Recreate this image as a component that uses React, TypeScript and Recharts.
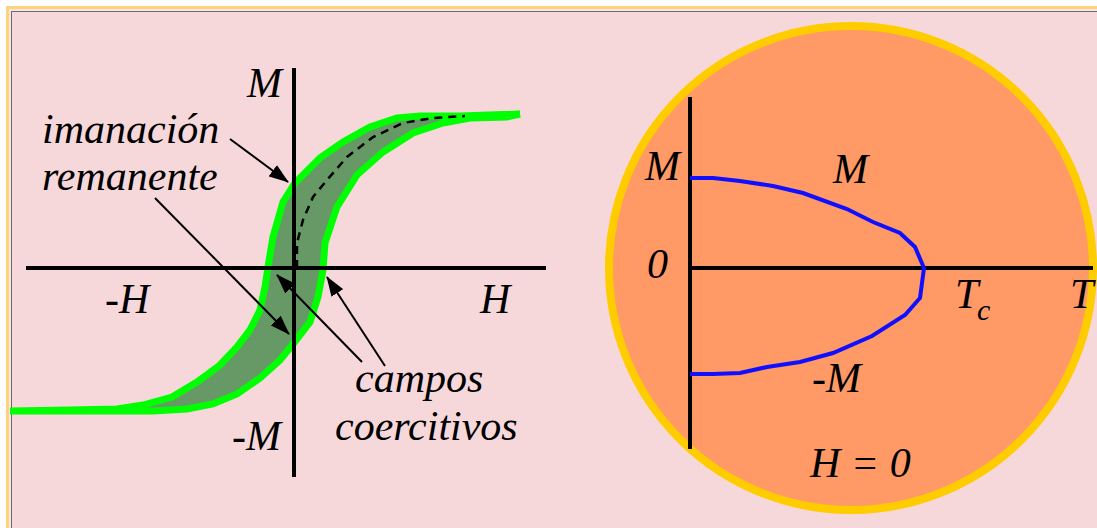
import React from 'react';
import { ComposedChart, Line, XAxis, YAxis, ReferenceDot } from 'recharts';

type HM = { h: number; m: number };
type TM = { t: number; m: number };

// hysteresis loop (H, M in arbitrary units)
const descendingBranch: HM[] = [
  { h: 2.26, m: 1.54 }, { h: 1.66, m: 1.52 }, { h: 1.26, m: 1.52 }, { h: 1.03, m: 1.5 },
  { h: 0.76, m: 1.41 }, { h: 0.49, m: 1.26 }, { h: 0.26, m: 1.1 }, { h: 0.01, m: 0.85 },
  { h: -0.11, m: 0.66 }, { h: -0.21, m: 0.31 }, { h: -0.26, m: 0.01 }, { h: -0.29, m: -0.19 },
  { h: -0.34, m: -0.42 }, { h: -0.44, m: -0.62 }, { h: -0.57, m: -0.79 }, { h: -0.74, m: -0.97 },
  { h: -0.97, m: -1.14 }, { h: -1.22, m: -1.29 }, { h: -1.51, m: -1.37 }, { h: -1.77, m: -1.41 },
  { h: -2.24, m: -1.42 }, { h: -2.84, m: -1.43 },
];
const ascendingBranch: HM[] = [
  { h: -2.84, m: -1.43 }, { h: -1.41, m: -1.43 }, { h: -1.07, m: -1.41 }, { h: -0.81, m: -1.36 },
  { h: -0.57, m: -1.26 }, { h: -0.34, m: -1.1 }, { h: -0.14, m: -0.92 }, { h: -0.01, m: -0.76 },
  { h: 0.16, m: -0.54 }, { h: 0.24, m: -0.29 }, { h: 0.29, m: -0.02 }, { h: 0.31, m: 0.25 },
  { h: 0.43, m: 0.61 }, { h: 0.63, m: 0.93 }, { h: 0.89, m: 1.16 }, { h: 1.19, m: 1.35 },
  { h: 1.49, m: 1.45 }, { h: 1.76, m: 1.5 }, { h: 2.13, m: 1.51 }, { h: 2.26, m: 1.54 },
];
const virginCurve: HM[] = [
  { h: 0.03, m: 0 }, { h: 0.03, m: 0.25 }, { h: 0.09, m: 0.48 }, { h: 0.19, m: 0.71 },
  { h: 0.33, m: 0.88 }, { h: 0.53, m: 1.11 }, { h: 0.79, m: 1.31 }, { h: 1.09, m: 1.45 },
  { h: 1.39, m: 1.5 }, { h: 1.71, m: 1.52 },
];
const hAxis: HM[] = [{ h: -2.68, m: 0 }, { h: 2.52, m: 0 }];
const mAxis: HM[] = [{ h: 0, m: 2.0 }, { h: 0, m: -2.09 }];
const arrowRemanentUp: HM[] = [{ h: -0.64, m: 1.29 }, { h: -0.06, m: 0.86 }];
const arrowRemanentDown: HM[] = [{ h: -1.39, m: 0.7 }, { h: -0.05, m: -0.66 }];
const arrowCoerciveLeft: HM[] = [{ h: 0.68, m: -0.94 }, { h: -0.17, m: -0.07 }];
const arrowCoerciveRight: HM[] = [{ h: 0.91, m: -0.98 }, { h: 0.33, m: -0.09 }];

// spontaneous magnetisation vs temperature, H = 0
const upperM: TM[] = [
  { t: 0, m: 0.9 }, { t: 0.23, m: 0.9 }, { t: 0.5, m: 0.87 }, { t: 0.83, m: 0.82 },
  { t: 1.13, m: 0.75 }, { t: 1.57, m: 0.59 }, { t: 1.83, m: 0.46 }, { t: 2.1, m: 0.35 },
  { t: 2.25, m: 0.21 }, { t: 2.34, m: 0 },
];
const lowerM: TM[] = [
  { t: 2.34, m: 0 }, { t: 2.3, m: -0.3 }, { t: 2.15, m: -0.47 }, { t: 1.82, m: -0.68 },
  { t: 1.43, m: -0.85 }, { t: 1.1, m: -0.94 }, { t: 0.77, m: -0.99 }, { t: 0.5, m: -1.05 },
  { t: 0.23, m: -1.06 }, { t: 0, m: -1.06 },
];
const tAxis: TM[] = [{ t: 0, m: 0 }, { t: 4.03, m: 0 }];
const mtAxis: TM[] = [{ t: 0, m: 1.71 }, { t: 0, m: -1.81 }];
const bubbleCenter = { t: 1.61, m: 0 };

const loop = [...descendingBranch, ...ascendingBranch.slice(1)];

const font = '"Liberation Serif", "Times New Roman", serif';

const common = {
  type: 'linear' as const,
  dataKey: 'm',
  dot: false,
  activeDot: false,
  isAnimationActive: false,
  legendType: 'none' as const,
};

const css = `
body { margin: 0; }
.loop-fill path.recharts-line-curve { fill: #669966; }
.arrow path.recharts-line-curve { marker-end: url(#arrowHead); }
`;

const Label = ({ x, y, children, size = 42 }: { x: number; y: number; children: React.ReactNode; size?: number }) => (
  <text x={x} y={y} fontSize={size} fontStyle="italic" fontFamily={font} fill="#000">
    {children}
  </text>
);

export default function App() {
  return (
    <div style={{ position: 'relative', width: 1097, height: 528, overflow: 'hidden', background: '#fff' }}>
      <style>{css}</style>
      <div style={{ position: 'absolute', left: 6, top: 6, width: 1200, height: 600, borderTop: '3px solid #ffd27f', borderLeft: '3px solid #ffd27f', background: '#fae6e2' }} />
      <div style={{ position: 'absolute', left: 11, top: 11, width: 1200, height: 600, borderTop: '1.5px solid #6e6a6a', borderLeft: '1.5px solid #6e6a6a', background: '#f7d8da' }} />

      <svg width={0} height={0} style={{ position: 'absolute' }}>
        <defs>
          <marker id="arrowHead" viewBox="0 0 20 14" refX={19} refY={7} markerWidth={20} markerHeight={14} markerUnits="userSpaceOnUse" orient="auto">
            <path d="M0,0 L20,7 L0,14 z" fill="#000" />
          </marker>
        </defs>
      </svg>

      <div style={{ position: 'absolute', left: -6, top: -2 }}>
        <ComposedChart width={600} height={540} margin={{ top: 0, right: 0, bottom: 0, left: 0 }}>
          <XAxis dataKey="h" type="number" domain={[-3, 3]} hide allowDataOverflow />
          <YAxis type="number" domain={[-2.7, 2.7]} hide allowDataOverflow />
          <Line {...common} data={loop} className="loop-fill" stroke="#00ff00" strokeWidth={7} />
          <Line {...common} data={virginCurve} stroke="#000" strokeWidth={2.5} strokeDasharray="8 6" />
          <Line {...common} data={hAxis} stroke="#000" strokeWidth={4} />
          <Line {...common} data={mAxis} stroke="#000" strokeWidth={4} />
          <Line {...common} data={arrowRemanentUp} className="arrow" stroke="#000" strokeWidth={2} />
          <Line {...common} data={arrowRemanentDown} className="arrow" stroke="#000" strokeWidth={2} />
          <Line {...common} data={arrowCoerciveLeft} className="arrow" stroke="#000" strokeWidth={2} />
          <Line {...common} data={arrowCoerciveRight} className="arrow" stroke="#000" strokeWidth={2} />
        </ComposedChart>
      </div>

      <div style={{ position: 'absolute', left: 590, top: -2 }}>
        <ComposedChart width={510} height={540} margin={{ top: 0, right: 0, bottom: 0, left: 0 }}>
          <XAxis dataKey="t" type="number" domain={[-1, 4.1]} hide allowDataOverflow />
          <YAxis type="number" domain={[-2.7, 2.7]} hide allowDataOverflow />
          <ReferenceDot x={bubbleCenter.t} y={bubbleCenter.m} r={242} fill="#ff9966" stroke="#ffcc00" strokeWidth={8} zIndex={0} />
          <Line {...common} data={tAxis} stroke="#000" strokeWidth={4} />
          <Line {...common} data={mtAxis} stroke="#000" strokeWidth={4} />
          <Line {...common} data={[...upperM, ...lowerM.slice(1)]} stroke="#1010ff" strokeWidth={4} />
        </ComposedChart>
      </div>

      <svg width={1097} height={528} style={{ position: 'absolute', left: 0, top: 0, pointerEvents: 'none' }}>
        <Label x={247} y={97}>M</Label>
        <Label x={42} y={143}>imanación</Label>
        <Label x={42} y={190}>remanente</Label>
        <Label x={105} y={313}>-H</Label>
        <Label x={480} y={313}>H</Label>
        <Label x={355} y={392}>campos</Label>
        <Label x={335} y={440}>coercitivos</Label>
        <Label x={232} y={450}>-M</Label>

        <Label x={645} y={180}>M</Label>
        <Label x={833} y={183}>M</Label>
        <Label x={647} y={278}>0</Label>
        <Label x={955} y={308}>T</Label>
        <Label x={977} y={320} size={30}>c</Label>
        <Label x={1070} y={308}>T</Label>
        <Label x={812} y={392}>-M</Label>
        <Label x={810} y={477}>H = 0</Label>
      </svg>
    </div>
  );
}
